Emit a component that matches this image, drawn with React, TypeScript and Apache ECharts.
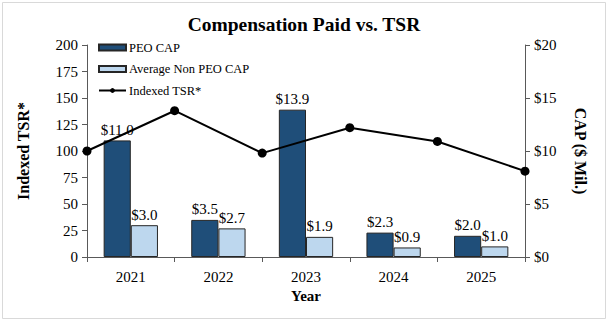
import React, { useEffect, useRef } from "react";
import * as echarts from "echarts";

const years = ["2021", "2022", "2023", "2024", "2025"];
const peoCap = [11.0, 3.5, 13.9, 2.3, 2.0];
const nonPeoCap = [3.0, 2.7, 1.9, 0.9, 1.0];
const tsrPoints = ["p0", "p1", "p2", "p3", "p4", "p5"];
const indexedTsr = [100, 138, 98, 122, 109, 81];

const FONT = "'Liberation Serif', 'Times New Roman', Times, serif";

export default function App() {
  const ref = useRef<HTMLDivElement>(null);
  useEffect(() => {
    const chart = echarts.init(ref.current!, undefined, { renderer: "svg" });
    const labelFmt = (p: any) => "$" + Number(p.value).toFixed(1);
    chart.setOption({
      animation: false,
      backgroundColor: "#ffffff",
      textStyle: { fontFamily: FONT },
      title: {
        text: "Compensation Paid vs. TSR",
        left: "center",
        top: 9,
        textStyle: { fontFamily: FONT, fontWeight: "bold", fontSize: 19.5, color: "#000" },
      },
      graphic: [
        {
          type: "rect",
          shape: { x: 2.5, y: 2.5, width: 603, height: 316 },
          style: { fill: "none", stroke: "#d9d9d9", lineWidth: 1 },
          silent: true,
        },
      ],
      legend: {
        orient: "vertical",
        left: 93,
        top: 41,
        itemGap: 8.5,
        itemWidth: 27,
        itemHeight: 6,
        padding: [0, 5],
        textStyle: { fontFamily: FONT, fontSize: 12.5, color: "#000", padding: [0, 0, 0, -2] },
        data: [
          { name: "PEO CAP", icon: "rect" },
          { name: "Average Non PEO CAP", icon: "rect" },
          { name: "Indexed TSR*" },
        ],
      },
      grid: { left: 87, right: 83, top: 45, bottom: 64 },
      xAxis: [
        {
          type: "category",
          data: years,
          axisLine: { lineStyle: { color: "#595959" } },
          axisTick: { show: true, inside: false, length: 5, lineStyle: { color: "#595959" } },
          axisLabel: { fontFamily: FONT, fontSize: 15, color: "#000", margin: 12 },
          name: "Year",
          nameLocation: "middle",
          nameGap: 30,
          nameTextStyle: { fontFamily: FONT, fontSize: 15, fontWeight: "bold", color: "#000" },
        },
        {
          type: "category",
          data: tsrPoints,
          boundaryGap: false,
          show: false,
        },
      ],
      yAxis: [
        {
          type: "value",
          min: 0,
          max: 200,
          interval: 25,
          position: "left",
          axisLine: { show: true, lineStyle: { color: "#595959" } },
          axisTick: { show: true, inside: false, length: 5, lineStyle: { color: "#595959" } },
          splitLine: { show: false },
          axisLabel: { fontFamily: FONT, fontSize: 15, color: "#000", margin: 9 },
          name: "Indexed TSR*",
          nameLocation: "middle",
          nameRotate: 90,
          nameGap: 56,
          nameTextStyle: { fontFamily: FONT, fontSize: 16, fontWeight: "bold", color: "#000" },
        },
        {
          type: "value",
          min: 0,
          max: 20,
          interval: 5,
          position: "right",
          axisLine: { show: true, lineStyle: { color: "#595959" } },
          axisTick: { show: true, inside: false, length: 5, lineStyle: { color: "#595959" } },
          splitLine: { show: false },
          axisLabel: { fontFamily: FONT, fontSize: 15, color: "#000", margin: 9, formatter: (v: number) => "$" + v },
          name: "CAP ($ Mil.)",
          nameLocation: "middle",
          nameRotate: -90,
          nameGap: 47,
          nameTextStyle: { fontFamily: FONT, fontSize: 16, fontWeight: "bold", color: "#000" },
        },
      ],
      series: [
        {
          name: "PEO CAP",
          type: "bar",
          xAxisIndex: 0,
          yAxisIndex: 1,
          data: peoCap,
          barGap: "0%",
          barCategoryGap: "38%",
          itemStyle: { color: "#1f4e79", borderColor: "#262626", borderWidth: 1 },
          label: {
            show: true,
            position: "top",
            formatter: labelFmt,
            fontFamily: FONT,
            fontSize: 15,
            color: "#000",
            distance: 3,
          },
          z: 2,
        },
        {
          name: "Average Non PEO CAP",
          type: "bar",
          xAxisIndex: 0,
          yAxisIndex: 1,
          data: nonPeoCap,
          barGap: "0%",
          barCategoryGap: "38%",
          itemStyle: { color: "#bdd7ee", borderColor: "#262626", borderWidth: 1 },
          label: {
            show: true,
            position: "top",
            formatter: labelFmt,
            fontFamily: FONT,
            fontSize: 15,
            color: "#000",
            distance: 3,
          },
          z: 2,
        },
        {
          name: "Indexed TSR*",
          type: "line",
          xAxisIndex: 1,
          yAxisIndex: 0,
          data: indexedTsr,
          symbol: "circle",
          symbolSize: 9,
          lineStyle: { color: "#000", width: 2 },
          itemStyle: { color: "#000" },
          z: 5,
        },
      ],
    });
    return () => chart.dispose();
  }, []);
  return (
    <div
      ref={ref}
      style={{ position: "absolute", left: 0, top: 0, width: 608, height: 321 }}
    />
  );
}
